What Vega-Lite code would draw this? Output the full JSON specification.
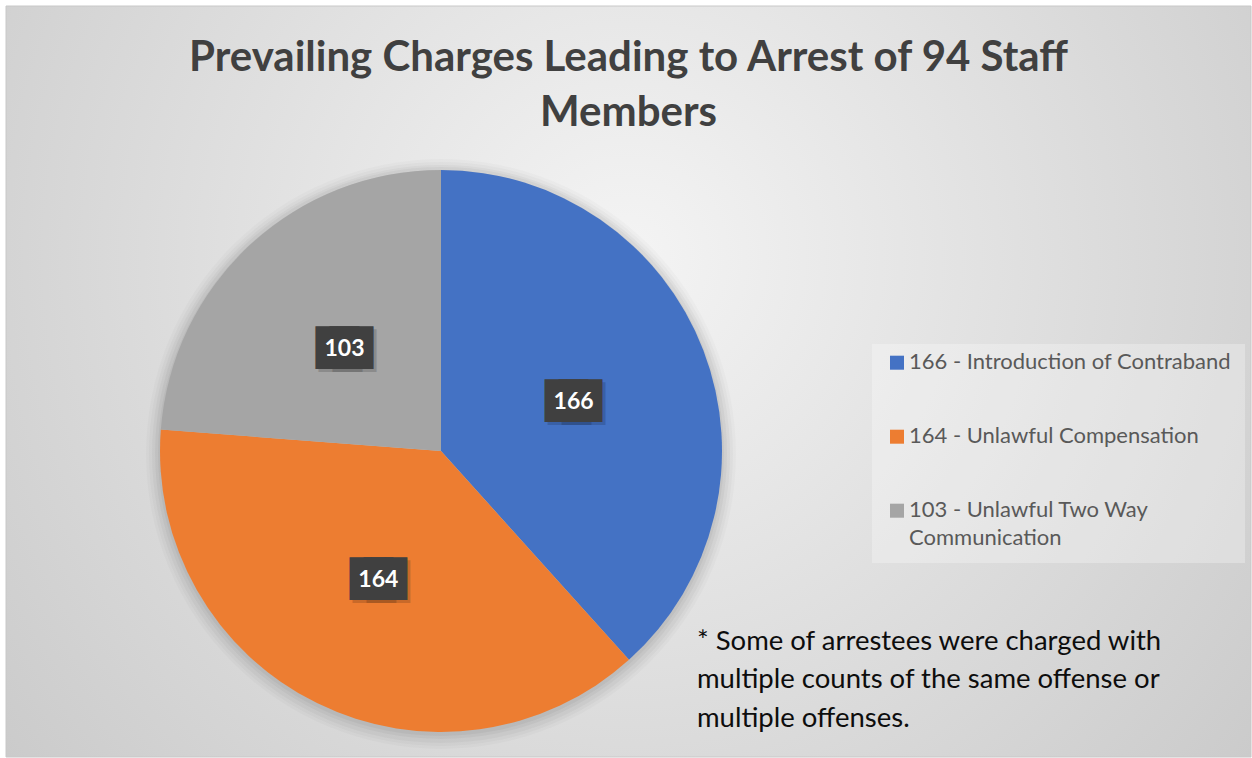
{
  "$schema": "https://vega.github.io/schema/vega-lite/v6.json",
  "autosize": {"type": "none"},
  "width": 1245,
  "height": 751,
  "padding": {"left": 6, "top": 6, "right": 1, "bottom": 1},
  "background": "white",
  "title": {
    "text": ["Prevailing Charges Leading to Arrest of 94 Staff", "Members"],
    "orient": "top",
    "anchor": "middle",
    "frame": "group",
    "baseline": "alphabetic",
    "offset": -162,
    "font": "Lato",
    "fontSize": 42,
    "fontWeight": "bold",
    "color": "#404040",
    "lineHeight": 55
  },
  "config": {
    "view": {"stroke": null},
    "style": {"guide-label": {"lineHeight": 28}},
    "legend": {
      "orient": "none",
      "legendX": 866,
      "legendY": 338,
      "labelFont": "Lato",
      "labelFontSize": 22,
      "labelColor": "#595959",
      "labelBaseline": "alphabetic",
      "labelLimit": 500,
      "labelOffset": 1,
      "symbolType": "M-1,-1.9H1V0.1H-1Z",
      "symbolSize": 196,
      "symbolStrokeWidth": 0,
      "fillColor": "rgba(255,255,255,0.28)",
      "padding": 14,
      "rowPadding": 52
    }
  },
  "data": {
    "values": [
      {"charge": "166 - Introduction of Contraband", "count": 166},
      {"charge": "164 - Unlawful Compensation", "count": 164},
      {"charge": "103 - Unlawful Two Way Communication", "count": 103}
    ]
  },
  "layer": [
    {
      "data": {"values": [{"panel": "background"}]},
      "mark": {
        "type": "rect",
        "x": 0, "x2": {"expr": "width"}, "y": 0, "y2": {"expr": "height"},
        "fill": {"gradient": "radial", "x1": 0.5, "y1": 0.4, "r1": 0, "x2": 0.5, "y2": 0.4, "r2": 0.75,
          "stops": [{"offset": 0, "color": "#f4f4f4"}, {"offset": 1, "color": "#c4c4c4"}]},
        "stroke": "#c8c8c8",
        "strokeWidth": 1
      },
      "encoding": {}
    },
    {
      "transform": [{"aggregate": [{"op": "sum", "field": "count", "as": "total"}]}],
      "mark": {"type": "arc", "outerRadius": 295, "fill": "#000000", "opacity": 0.02, "x": {"expr": "width*0.3494"}, "y": {"expr": "height*0.5925+3"}},
      "encoding": {"theta": {"field": "total", "type": "quantitative"}}
    },
    {
      "transform": [{"aggregate": [{"op": "sum", "field": "count", "as": "total"}]}],
      "mark": {"type": "arc", "outerRadius": 292, "fill": "#000000", "opacity": 0.025, "x": {"expr": "width*0.3494"}, "y": {"expr": "height*0.5925+3"}},
      "encoding": {"theta": {"field": "total", "type": "quantitative"}}
    },
    {
      "transform": [{"aggregate": [{"op": "sum", "field": "count", "as": "total"}]}],
      "mark": {"type": "arc", "outerRadius": 289, "fill": "#000000", "opacity": 0.03, "x": {"expr": "width*0.3494"}, "y": {"expr": "height*0.5925+3"}},
      "encoding": {"theta": {"field": "total", "type": "quantitative"}}
    },
    {
      "transform": [{"aggregate": [{"op": "sum", "field": "count", "as": "total"}]}],
      "mark": {"type": "arc", "outerRadius": 286, "fill": "#000000", "opacity": 0.035, "x": {"expr": "width*0.3494"}, "y": {"expr": "height*0.5925+2"}},
      "encoding": {"theta": {"field": "total", "type": "quantitative"}}
    },
    {
      "transform": [{"aggregate": [{"op": "sum", "field": "count", "as": "total"}]}],
      "mark": {"type": "arc", "outerRadius": 283, "fill": "#000000", "opacity": 0.04, "x": {"expr": "width*0.3494"}, "y": {"expr": "height*0.5925+2"}},
      "encoding": {"theta": {"field": "total", "type": "quantitative"}}
    },
    {
      "mark": {"type": "arc", "outerRadius": 281, "x": {"expr": "width*0.3494"}, "y": {"expr": "height*0.5925"}},
      "encoding": {
        "theta": {"field": "count", "type": "quantitative", "stack": true},
        "order": {"field": "count", "type": "quantitative", "sort": "descending"},
        "color": {
          "field": "charge",
          "type": "nominal",
          "sort": null,
          "title": null,
          "scale": {
            "domain": ["166 - Introduction of Contraband", "164 - Unlawful Compensation", "103 - Unlawful Two Way Communication"],
            "range": ["#4472C4", "#ED7D31", "#A5A5A5"]
          },
          "legend": {
            "labelExpr": "datum.value == '103 - Unlawful Two Way Communication' ? ['103 - Unlawful Two Way', 'Communication'] : datum.label"
          }
        }
      }
    },
    {
      "mark": {"type": "text", "radius": 142, "text": "██", "font": "DejaVu Sans Mono", "fontSize": 36, "baseline": "middle", "align": "center", "dx": -4, "dy": 5, "color": "#000000", "opacity": 0.15, "x": {"expr": "width*0.3494"}, "y": {"expr": "height*0.5925"}},
      "encoding": {
        "theta": {"field": "count", "type": "quantitative", "stack": true},
        "order": {"field": "count", "type": "quantitative", "sort": "descending"}
      }
    },
    {
      "mark": {"type": "text", "radius": 142, "text": "██", "font": "DejaVu Sans Mono", "fontSize": 36, "baseline": "middle", "align": "center", "dx": 10, "dy": 5, "color": "#000000", "opacity": 0.15, "x": {"expr": "width*0.3494"}, "y": {"expr": "height*0.5925"}},
      "encoding": {
        "theta": {"field": "count", "type": "quantitative", "stack": true},
        "order": {"field": "count", "type": "quantitative", "sort": "descending"}
      }
    },
    {
      "mark": {"type": "text", "radius": 142, "text": "██", "font": "DejaVu Sans Mono", "fontSize": 36, "baseline": "middle", "align": "center", "dx": -7, "dy": 2, "color": "#404040", "x": {"expr": "width*0.3494"}, "y": {"expr": "height*0.5925"}},
      "encoding": {
        "theta": {"field": "count", "type": "quantitative", "stack": true},
        "order": {"field": "count", "type": "quantitative", "sort": "descending"}
      }
    },
    {
      "mark": {"type": "text", "radius": 142, "text": "██", "font": "DejaVu Sans Mono", "fontSize": 36, "baseline": "middle", "align": "center", "dx": 7, "dy": 2, "color": "#404040", "x": {"expr": "width*0.3494"}, "y": {"expr": "height*0.5925"}},
      "encoding": {
        "theta": {"field": "count", "type": "quantitative", "stack": true},
        "order": {"field": "count", "type": "quantitative", "sort": "descending"}
      }
    },
    {
      "mark": {"type": "text", "radius": 142, "font": "Lato", "fontSize": 23, "fontWeight": "bold", "baseline": "middle", "align": "center", "dy": 2, "color": "white", "x": {"expr": "width*0.3494"}, "y": {"expr": "height*0.5925"}},
      "encoding": {
        "theta": {"field": "count", "type": "quantitative", "stack": true},
        "order": {"field": "count", "type": "quantitative", "sort": "descending"},
        "text": {"field": "count", "type": "quantitative"}
      }
    },
    {
      "data": {"values": [{"note": "footnote"}]},
      "mark": {
        "type": "text",
        "text": ["* Some of arrestees were charged with", "multiple counts of the same offense or", "multiple offenses."],
        "font": "Lato",
        "fontSize": 27.5,
        "color": "#0d0d0d",
        "align": "left",
        "baseline": "alphabetic",
        "lineHeight": 38.5,
        "x": {"expr": "width*0.555"},
        "y": {"expr": "height*0.8575"}
      },
      "encoding": {}
    }
  ]
}
